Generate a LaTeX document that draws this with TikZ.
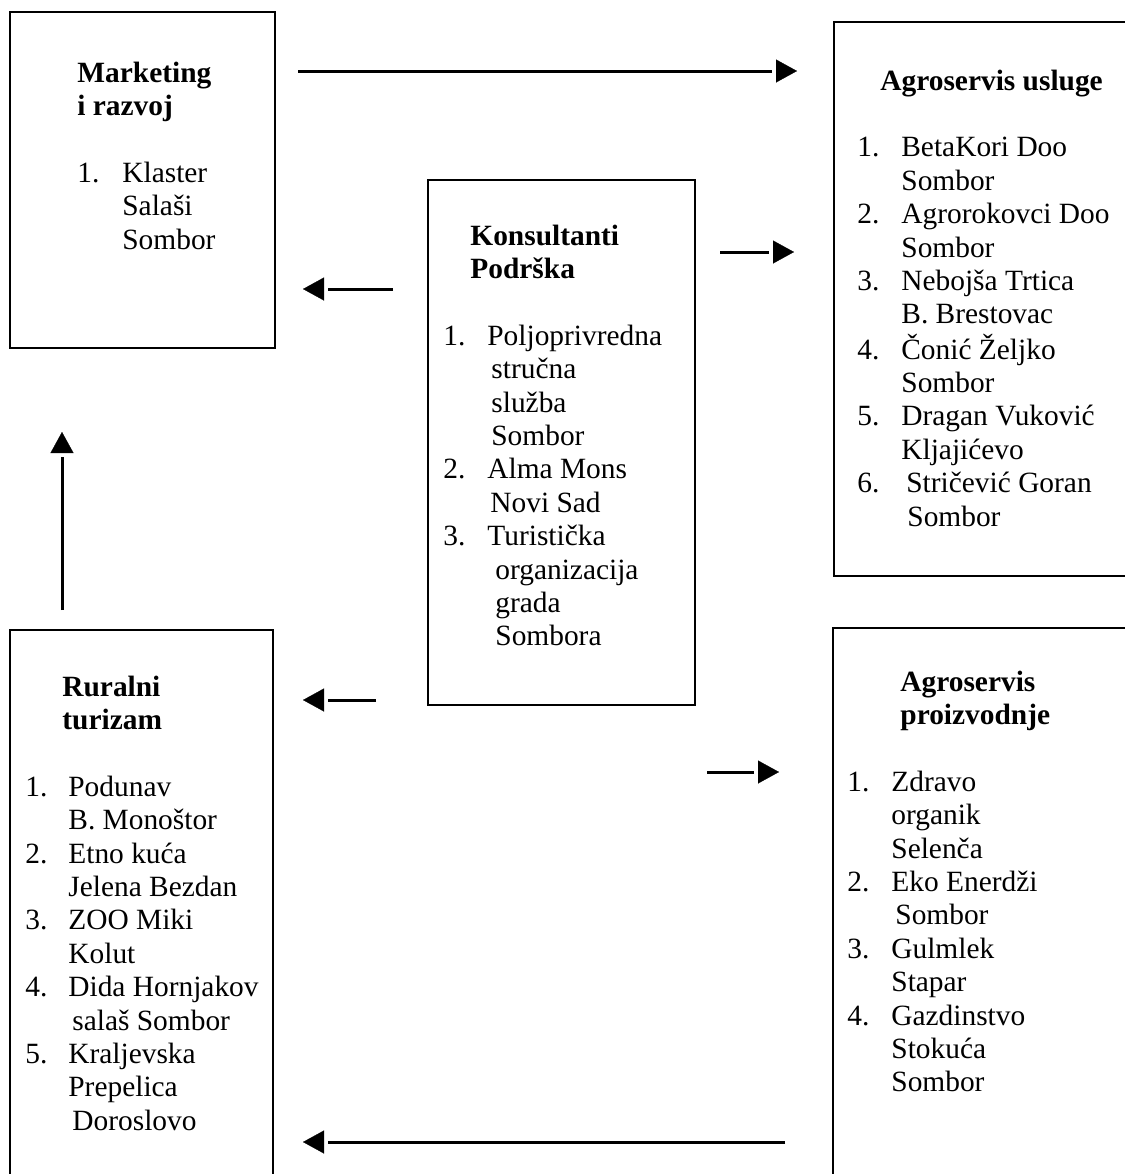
\documentclass[tikz,border=0pt]{standalone}
\usepackage{fontspec}
\setmainfont{Liberation Serif}
\usetikzlibrary{arrows.meta,calc}
\newdimen\pu \pu=0.5pt
\newcommand{\itm}[3]{\makebox[#1\pu][l]{#2}#3}
\newcommand{\cnt}[2]{\hspace*{#1\pu}#2}
\tikzset{
  box/.style={draw, line width=1pt},
  txt/.style={anchor=base west, inner sep=0pt, font=\fontsize{14.7pt}{16.7pt}\selectfont},
  shaft/.style={line width=1.5pt, shorten >=12.5pt},
  head/.style={line width=0.1pt, -{Triangle[length=10.5pt,width=11.5pt]}}
}
\newcommand{\arrw}[2]{\draw[shaft] (#1) -- (#2);\draw[head] ($(#2)!10pt!(#1)$) -- (#2);}
\begin{document}
\begin{tikzpicture}[x=0.5pt,y=-0.5pt]
\useasboundingbox (0,0) rectangle (1125,1174);
% boxes
\draw[box] (10,12) rectangle (275,348);
\draw[box] (834,22) rectangle (1140,576);
\draw[box] (428,180) rectangle (695,705);
\draw[box] (10,630) rectangle (273,1200);
\draw[box] (833,628) rectangle (1140,1200);
% texts
\node[txt] (mkt) at (77,82) {\begin{tabular}[t]{@{}l@{}}
\textbf{Marketing}\\
\textbf{i razvoj}\\
\\
\itm{45}{1.}{Klaster}\\
\cnt{45}{Salaši}\\
\cnt{45}{Sombor}
\end{tabular}};
\node[txt] (ust) at (857,90) {\begin{tabular}[t]{@{}l@{}}
\cnt{23}{\textbf{Agroservis usluge}}\\
\\
\itm{44}{1.}{BetaKori Doo}\\
\cnt{44}{Sombor}\\
\itm{44}{2.}{Agrorokovci Doo}\\
\cnt{44}{Sombor}\\
\itm{44}{3.}{Nebojša Trtica}\\
\cnt{44}{B. Brestovac}\\
\itm{44}{4.}{Čonić Željko}\\
\cnt{44}{Sombor}\\
\itm{44}{5.}{Dragan Vuković}\\
\cnt{44}{Kljajićevo}\\
\itm{49}{6.}{Stričević Goran}\\
\cnt{50}{Sombor}
\end{tabular}};
\node[txt] (kot) at (443,245) {\begin{tabular}[t]{@{}l@{}}
\cnt{27}{\textbf{Konsultanti}}\\
\cnt{27}{\textbf{Podrška}}\\
\\
\itm{44}{1.}{Poljoprivredna}\\
\cnt{48}{stručna}\\
\cnt{48}{služba}\\
\cnt{48}{Sombor}\\
\itm{44}{2.}{Alma Mons}\\
\cnt{47}{Novi Sad}\\
\itm{44}{3.}{Turistička}\\
\cnt{52}{organizacija}\\
\cnt{52}{grada}\\
\cnt{52}{Sombora}
\end{tabular}};
\node[txt] (rut) at (25,696) {\begin{tabular}[t]{@{}l@{}}
\cnt{37}{\textbf{Ruralni}}\\
\cnt{37}{\textbf{turizam}}\\
\\
\itm{43}{1.}{Podunav}\\
\cnt{43}{B. Monoštor}\\
\itm{43}{2.}{Etno kuća}\\
\cnt{43}{Jelena Bezdan}\\
\itm{43}{3.}{ZOO Miki}\\
\cnt{43}{Kolut}\\
\itm{43}{4.}{Dida Hornjakov}\\
\cnt{47}{salaš Sombor}\\
\itm{43}{5.}{Kraljevska}\\
\cnt{43}{Prepelica}\\
\cnt{47}{Doroslovo}
\end{tabular}};
\node[txt] (prt) at (847,691) {\begin{tabular}[t]{@{}l@{}}
\cnt{53}{\textbf{Agroservis}}\\
\cnt{53}{\textbf{proizvodnje}}\\
\\
\itm{44}{1.}{Zdravo}\\
\cnt{44}{organik}\\
\cnt{44}{Selenča}\\
\itm{44}{2.}{Eko Enerdži}\\
\cnt{48}{Sombor}\\
\itm{44}{3.}{Gulmlek}\\
\cnt{44}{Stapar}\\
\itm{44}{4.}{Gazdinstvo}\\
\cnt{44}{Stokuća}\\
\cnt{44}{Sombor}
\end{tabular}};
% arrow endpoints
\coordinate (a1s) at (298,71);  \coordinate (a1e) at (797,71);
\coordinate (a2s) at (720,252); \coordinate (a2e) at (794,252);
\coordinate (a3s) at (393,289); \coordinate (a3e) at (303,289);
\coordinate (a4s) at (376,700); \coordinate (a4e) at (303,700);
\coordinate (a5s) at (707,772); \coordinate (a5e) at (779,772);
\coordinate (a6s) at (62,610);  \coordinate (a6e) at (62,432);
\coordinate (a7s) at (785,1142); \coordinate (a7e) at (303,1142);
\arrw{a1s}{a1e}
\arrw{a2s}{a2e}
\arrw{a3s}{a3e}
\arrw{a4s}{a4e}
\arrw{a5s}{a5e}
\arrw{a6s}{a6e}
\arrw{a7s}{a7e}
\end{tikzpicture}
\end{document}
